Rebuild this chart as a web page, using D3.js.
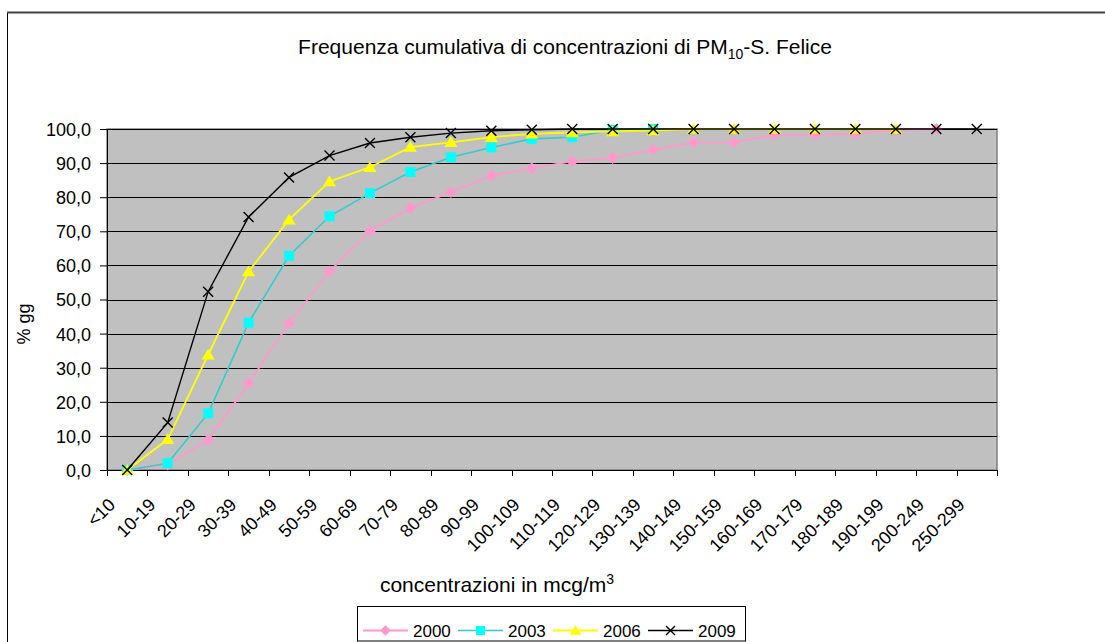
<!DOCTYPE html>
<html>
<head>
<meta charset="utf-8">
<script src="https://cdn.jsdelivr.net/npm/d3@7"></script>
<style>
  html, body { margin: 0; padding: 0; background: #fff; }
  svg { display: block; }
  text { font-family: "Liberation Sans", Arial, sans-serif; fill: #000; }
</style>
</head>
<body>
<svg id="chart" width="1105" height="642"></svg>
<script>
// Concentration classes (mcg/m3)
const categories = ["<10", "10-19", "20-29", "30-39", "40-49", "50-59", "60-69", "70-79",
  "80-89", "90-99", "100-109", "110-119", "120-129", "130-139", "140-149", "150-159",
  "160-169", "170-179", "180-189", "190-199", "200-249", "250-299"];

// Cumulative frequency (% of days) per year; null = class not reported
const values2000 = [0, 1.6, 8.8, 25.4, 43.1, 58.2, 70.1, 76.8, 81.5, 86.3, 88.5, 90.5,
  91.5, 93.9, 96.1, 96.1, 98.3, 98.3, 98.6, 99.6, 100, null];
const values2003 = [0, 2.0, 16.6, 43.2, 62.8, 74.4, 81.2, 87.4, 91.7, 94.6, 97.1, 97.6,
  99.7, 100, null, null, null, null, null, null, null, null];
const values2006 = [0, 9.0, 33.8, 58.2, 73.4, 84.6, 88.8, 94.7, 96.1, 97.6, 98.6, 99.0,
  99.3, 99.6, 100, 100, 100, 100, 100, 100, null, null];
const values2009 = [0, 13.9, 52.3, 74.2, 85.8, 92.2, 95.9, 97.6, 98.8, 99.5, 99.8, 100,
  100, 100, 100, 100, 100, 100, 100, 100, 100, 100];

const seriesNames = ["2000", "2003", "2006", "2009"];
const yTicks = [0, 10, 20, 30, 40, 50, 60, 70, 80, 90, 100];

const svg = d3.select("#chart");

const plot = { left: 107, right: 997, top: 129, bottom: 470 };

const x = d3.scaleBand().domain(categories).range([plot.left, plot.right]);
const y = d3.scaleLinear().domain([0, 100]).range([plot.bottom, plot.top]);

// Outer chart frame (continues past the right and bottom edges)
svg.append("rect")
  .attr("x", 7.5).attr("y", 12.5)
  .attr("width", 1200).attr("height", 700)
  .attr("fill", "#fff").attr("stroke", "#000").attr("stroke-width", 1);
svg.append("line")
  .attr("x1", 7).attr("x2", 1105).attr("y1", 12.5).attr("y2", 12.5)
  .attr("stroke", "#444").attr("stroke-width", 2);

// Plot area
svg.append("rect")
  .attr("x", plot.left).attr("y", plot.top)
  .attr("width", plot.right - plot.left).attr("height", plot.bottom - plot.top)
  .attr("fill", "#c0c0c0").attr("stroke", "#808080").attr("stroke-width", 1.5);

// Horizontal gridlines
svg.append("g")
  .selectAll("line")
  .data(yTicks.filter(d => d > 0))
  .join("line")
  .attr("x1", plot.left).attr("x2", plot.right)
  .attr("y1", d => Math.round(y(d)) + 0.5).attr("y2", d => Math.round(y(d)) + 0.5)
  .attr("stroke", "#000").attr("stroke-width", 1);

// Y axis
const yAxis = svg.append("g")
  .attr("transform", `translate(${plot.left},0)`)
  .call(d3.axisLeft(y).tickValues(yTicks).tickSize(7).tickSizeOuter(0)
    .tickFormat(d => d3.format(".1f")(d).replace(".", ",")));
yAxis.select(".domain").attr("stroke", "#000");
yAxis.selectAll(".tick line").attr("stroke", "#000");
yAxis.selectAll(".tick text")
  .attr("x", -16)
  .attr("dy", "0.36em")
  .style("font-size", "18px")
  .style("font-family", "'Liberation Sans', Arial, sans-serif");

// X axis line and class boundary ticks
const xg = svg.append("g");
xg.append("line")
  .attr("x1", plot.left).attr("x2", plot.right)
  .attr("y1", plot.bottom + 0.5).attr("y2", plot.bottom + 0.5)
  .attr("stroke", "#000");
const boundaries = categories.map(c => x(c)).concat([x(categories[categories.length - 1]) + x.bandwidth()]);
xg.selectAll("line.tick")
  .data(boundaries)
  .join("line")
  .attr("class", "tick")
  .attr("x1", d => Math.round(d) + 0.5).attr("x2", d => Math.round(d) + 0.5)
  .attr("y1", plot.bottom).attr("y2", plot.bottom + 6)
  .attr("stroke", "#000");

// Slanted category labels
xg.selectAll("text")
  .data(categories)
  .join("text")
  .attr("transform", d => `translate(${x(d) + x.bandwidth() / 2 - 11},${plot.bottom + 36}) rotate(-45)`)
  .attr("text-anchor", "end")
  .style("font-size", "18px")
  .text(d => d);

// Marker shapes
const diamond = { draw(ctx, size) { const r = Math.sqrt(size) / 2; ctx.moveTo(0, -r); ctx.lineTo(r, 0); ctx.lineTo(0, r); ctx.lineTo(-r, 0); ctx.closePath(); } };
const square = { draw(ctx, size) { const r = Math.sqrt(size) / 2; ctx.rect(-r, -r, 2 * r, 2 * r); } };
const triangle = { draw(ctx, size) { const r = Math.sqrt(size) / 2; ctx.moveTo(0, -r); ctx.lineTo(r * 1.1, r * 0.8); ctx.lineTo(-r * 1.1, r * 0.8); ctx.closePath(); } };
const cross = { draw(ctx, size) { const r = Math.sqrt(size) / 2; ctx.moveTo(-r, -r); ctx.lineTo(r, r); ctx.moveTo(r, -r); ctx.lineTo(-r, r); } };

const series = [
  { name: "2000", values: values2000, line: "#ff99cc", fill: "#ff99cc", stroke: "none", shape: diamond, size: 144, width: 1.8 },
  { name: "2003", values: values2003, line: "#33cccc", fill: "#00ffff", stroke: "none", shape: square, size: 100, width: 1.6 },
  { name: "2006", values: values2006, line: "#ffff00", fill: "#ffff00", stroke: "none", shape: triangle, size: 144, width: 1.8 },
  { name: "2009", values: values2009, line: "#000000", fill: "none", stroke: "#000", shape: cross, size: 100, width: 1.4 }
];

const cx = c => x(c) + x.bandwidth() / 2;
const lineGen = d3.line()
  .defined(d => d.v !== null)
  .x(d => cx(d.c))
  .y(d => y(d.v));

const sg = svg.append("g");
series.forEach(s => {
  const pts = categories.map((c, i) => ({ c, v: s.values[i] }));
  const g = sg.append("g");
  g.append("path")
    .datum(pts)
    .attr("d", lineGen)
    .attr("fill", "none")
    .attr("stroke", s.line)
    .attr("stroke-width", s.width);
  g.selectAll("path.m")
    .data(pts.filter(d => d.v !== null))
    .join("path")
    .attr("class", "m")
    .attr("transform", d => `translate(${cx(d.c)},${y(d.v)})`)
    .attr("d", d3.symbol().type(s.shape).size(s.size))
    .attr("fill", s.fill)
    .attr("stroke", s.stroke)
    .attr("stroke-width", 1.4);
});

// Title with subscript
const title = svg.append("text")
  .attr("transform", "translate(565,54)")
  .attr("text-anchor", "middle")
  .style("font-size", "21px");
title.append("tspan").text("Frequenza cumulativa di concentrazioni di PM");
title.append("tspan").attr("dy", 5).style("font-size", "14px").text("10");
title.append("tspan").attr("dy", -5).text("-S. Felice");

// Axis titles
const xt = svg.append("text")
  .attr("transform", "translate(497,592)")
  .attr("text-anchor", "middle")
  .style("font-size", "21px");
xt.append("tspan").text("concentrazioni in mcg/m");
xt.append("tspan").attr("dy", -8).style("font-size", "14px").text("3");

svg.append("text")
  .attr("transform", "translate(30,324) rotate(-90)")
  .attr("text-anchor", "middle")
  .style("font-size", "18px")
  .text("% gg");

// Legend
const legend = svg.append("g");
legend.append("rect")
  .attr("x", 357.5).attr("y", 606.5).attr("width", 388).attr("height", 34.5)
  .attr("fill", "#fff").attr("stroke", "#000");
const legendX = d3.scalePoint().domain(seriesNames).range([363, 648]);
series.forEach(s => {
  const lx = legendX(s.name);
  const lg = legend.append("g").attr("transform", `translate(${lx},630.5)`);
  lg.append("line").attr("x1", 0).attr("x2", 45).attr("stroke", s.line).attr("stroke-width", s.width);
  lg.append("path")
    .attr("transform", "translate(22.5,0)")
    .attr("d", d3.symbol().type(s.shape).size(s.size * 0.8))
    .attr("fill", s.fill).attr("stroke", s.stroke).attr("stroke-width", 1.4);
  lg.append("text")
    .attr("transform", "translate(50,6)")
    .style("font-size", "17px")
    .text(s.name);
});
</script>
</body>
</html>
